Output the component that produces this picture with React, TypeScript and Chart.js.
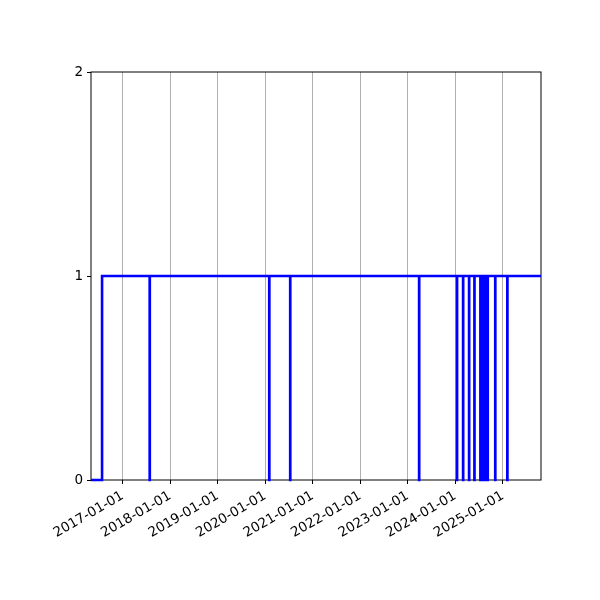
import { useEffect, useRef } from "react"
import { Chart, registerables } from "chart.js"

Chart.register(...registerables)

// step changes of the signal (date, value held from that date on)
const changeDates = [
  "2016-05-02", "2016-07-26",
  "2017-07-27", "2017-07-28",
  "2020-02-01", "2020-02-02",
  "2020-07-11", "2020-07-12",
  "2023-03-29", "2023-03-30",
  "2024-01-14", "2024-01-15",
  "2024-03-01", "2024-03-02",
  "2024-04-16", "2024-04-17",
  "2024-05-27", "2024-05-28",
  "2024-07-12", "2024-07-13",
  "2024-07-20", "2024-07-21",
  "2024-07-28", "2024-07-29",
  "2024-08-05", "2024-08-06",
  "2024-08-13", "2024-08-14",
  "2024-08-21", "2024-08-22",
  "2024-08-29", "2024-08-30",
  "2024-09-06", "2024-09-07",
  "2024-11-03", "2024-11-04",
  "2025-02-04", "2025-02-05",
  "2025-10-21",
]
const changeValues = [
  0, 1,
  0, 1,
  0, 1,
  0, 1,
  0, 1,
  0, 1,
  0, 1,
  0, 1,
  0, 1,
  0, 1,
  0, 1,
  0, 1,
  0, 1,
  0, 1,
  0, 1,
  0, 1,
  0, 1,
  0, 1,
  0, 1,
  1,
]

const xTickLabels = [
  "2017-01-01", "2018-01-01", "2019-01-01", "2020-01-01", "2021-01-01",
  "2022-01-01", "2023-01-01", "2024-01-01", "2025-01-01",
]
const yTicks = [0, 1, 2]

const FONT = { family: "'DejaVu Sans', sans-serif", size: 13.5 }

// matplotlib-style box around the plot area
const framePlugin = {
  id: "frame",
  beforeDatasetsDraw(chart) {
    const { ctx, chartArea } = chart
    ctx.save()
    ctx.strokeStyle = "#000"
    ctx.lineWidth = 1
    ctx.strokeRect(chartArea.left, chartArea.top, chartArea.right - chartArea.left, chartArea.bottom - chartArea.top)
    ctx.restore()
  },
}

export default function App() {
  const chartRef = useRef(null)
  const chartInstance = useRef(null)

  useEffect(() => {
    if (!chartRef.current) return
    if (chartInstance.current) chartInstance.current.destroy()

    const points = changeDates.map((d, i) => ({ x: Date.parse(d), y: changeValues[i] }))

    chartInstance.current = new Chart(chartRef.current.getContext("2d"), {
      type: "line",
      data: {
        datasets: [
          {
            data: points,
            borderColor: "#0000ff",
            borderWidth: 2.6,
            pointRadius: 0,
            stepped: true,
            fill: false,
            clip: 3,
          },
        ],
      },
      options: {
        animation: false,
        responsive: true,
        maintainAspectRatio: false,
        layout: { padding: { left: 0, top: 72, right: 59, bottom: 0 } },
        plugins: { legend: { display: false }, tooltip: { enabled: false } },
        scales: {
          x: {
            type: "linear",
            min: Date.parse(changeDates[0]),
            max: Date.parse(changeDates[changeDates.length - 1]),
            afterBuildTicks: (scale) => {
              scale.ticks = xTickLabels.map((l) => ({ value: Date.parse(l) }))
            },
            afterFit: (scale) => {
              scale.height = 120
            },
            grid: { color: "#b0b0b0", lineWidth: 1, tickColor: "#000", tickLength: 4 },
            border: { display: false },
            ticks: {
              autoSkip: false,
              minRotation: 30,
              maxRotation: 30,
              padding: 4,
              color: "#000",
              font: FONT,
              callback: (v, i) => xTickLabels[i],
            },
          },
          y: {
            min: 0,
            max: 2,
            afterBuildTicks: (scale) => {
              scale.ticks = yTicks.map((v) => ({ value: v }))
            },
            afterFit: (scale) => {
              scale.width = 91
            },
            grid: { drawOnChartArea: false, tickColor: "#000", tickLength: 4 },
            border: { display: false },
            ticks: { padding: 4, color: "#000", font: FONT, callback: (v) => String(v) },
          },
        },
      },
      plugins: [framePlugin],
    })

    return () => {
      if (chartInstance.current) {
        chartInstance.current.destroy()
        chartInstance.current = null
      }
    }
  }, [])

  return (
    <div style={{ position: "absolute", left: 0, top: 0, width: 600, height: 600, background: "#fff" }}>
      <canvas ref={chartRef}></canvas>
    </div>
  )
}
